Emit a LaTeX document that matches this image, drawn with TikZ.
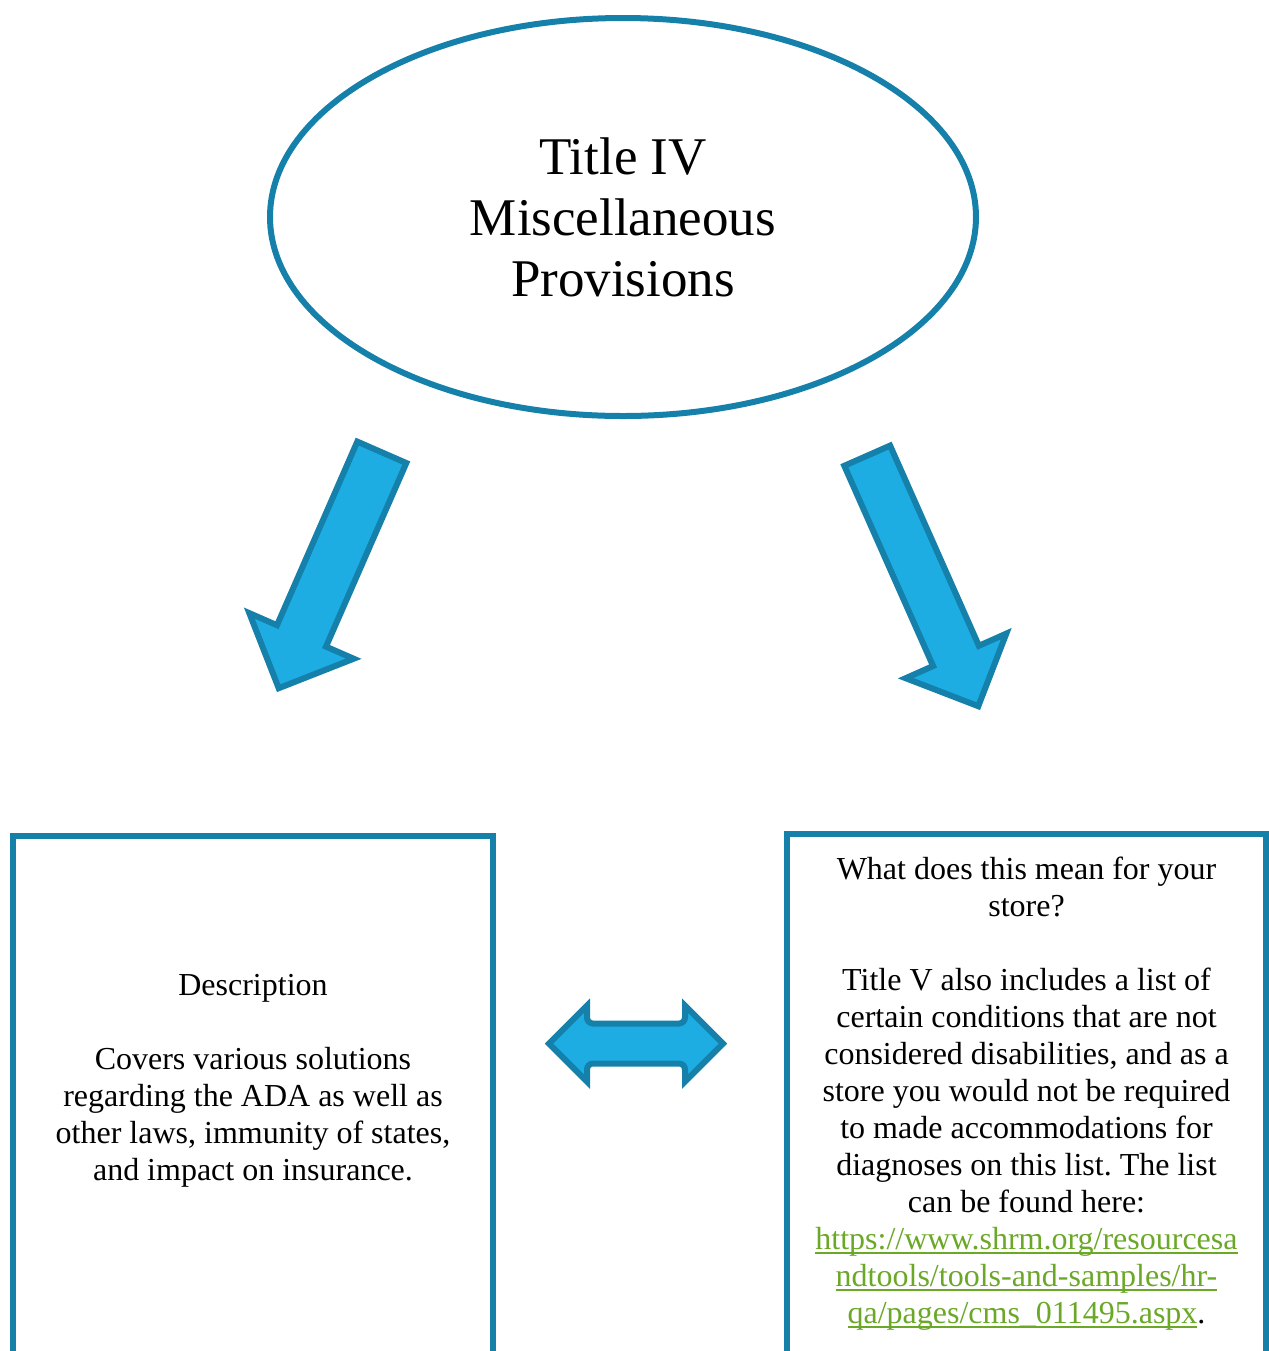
\documentclass[tikz,border=0pt]{standalone}
\usepackage{fontspec}
\setmainfont{Liberation Serif}
\usepackage{tikz}
\usetikzlibrary{calc,shapes.geometric}
\definecolor{adaedge}{HTML}{1581AB}
\definecolor{adafill}{HTML}{1EADE3}
\definecolor{adagreen}{HTML}{6BA828}
\frenchspacing
\newsavebox{\linkbox}
\newcommand{\shrmlink}[1]{\sbox{\linkbox}{\color{adagreen}#1}{\color{adagreen}\rlap{\usebox{\linkbox}}\rule[-1.9pt]{\wd\linkbox}{0.8pt}}}

\begin{document}
\begin{tikzpicture}[x=0.5pt,y=-0.5pt,
    edge/.style={draw=adaedge,line width=3pt},
    blockarrow/.style={edge,fill=adafill},
    titletext/.style={font=\fontsize{26.5}{30.5}\selectfont,align=center},
    bodytext/.style={font=\fontsize{16}{18.5}\selectfont,align=center,inner sep=0pt}]
    \path[use as bounding box,clip] (0,0) rectangle (1269,1351);
    \node[ellipse,edge,minimum width=353pt,minimum height=199pt,titletext] (title) at (623,217) {Title IV\\Miscellaneous\\Provisions};
    \node[edge,anchor=north,minimum width=240pt,minimum height=300pt,inner sep=0pt] (descbox) at (253,833) {};
    \node[edge,anchor=north,minimum width=239.5pt,minimum height=300pt,inner sep=0pt] (storebox) at (1026.5,831) {};
    \node[bodytext] (desc) at ($(descbox.north)+(0,248)$) {Description\\[18.5pt]Covers various solutions\\regarding the ADA as well as\\other laws, immunity of states,\\and impact on insurance.};
    \node[bodytext] (store) at ($(storebox.north)+(0,263)$) {What does this mean for your\\store?\\[18.5pt]Title V also includes a list of\\certain conditions that are not\\considered disabilities, and as a\\store you would not be required\\to made accommodations for\\diagnoses on this list. The list\\can be found here:\\\shrmlink{https://www.shrm.org/resourcesa}\\\shrmlink{ndtools/tools-and-samples/hr-}\\\shrmlink{qa/pages/cms\_011495.aspx}.};
    \draw[blockarrow] (357.3,441.6) -- (406.3,463) -- (326,646.6) -- (353.7,658.7) -- (278.7,688.2) -- (249.3,613.1) -- (277,625.2) -- cycle;
    \draw[blockarrow] (844.3,465.8) -- (890.1,445.6) -- (978.9,645.8) -- (1006.3,633.6) -- (978.3,706.2) -- (905.7,678.2) -- (933.1,666) -- cycle;
    \draw[blockarrow] (549,1043.5) -- (587,1005.5) [rounded corners=3pt]-- (587,1023.5) -- (685,1023.5) [sharp corners]-- (685,1005.5) -- (723,1043.5) -- (685,1081.5) [rounded corners=3pt]-- (685,1063.5) -- (587,1063.5) [sharp corners]-- (587,1081.5) -- cycle;
\end{tikzpicture}
\end{document}
